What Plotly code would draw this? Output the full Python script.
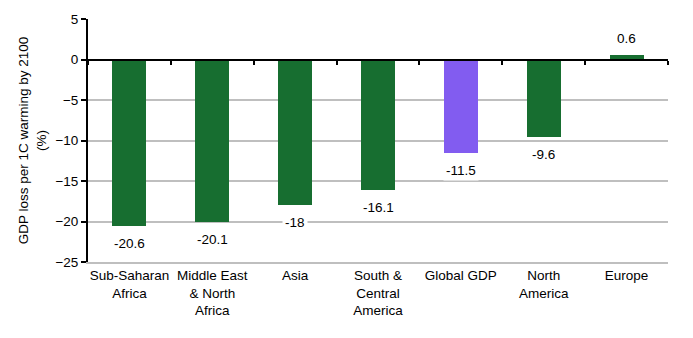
import plotly.graph_objects as go

categories = ["Sub-Saharan<br>Africa", "Middle East<br>& North<br>Africa", "Asia",
              "South &<br>Central<br>America", "Global GDP", "North<br>America", "Europe"]
values = [-20.6, -20.1, -18.0, -16.1, -11.5, -9.6, 0.6]
value_labels = ["-20.6", "-20.1", "-18", "-16.1", "-11.5", "-9.6", "0.6"]
bar_colors = ["#176E30", "#176E30", "#176E30", "#176E30", "#825CF0", "#176E30", "#176E30"]
y_ticks = [5, 0, -5, -10, -15, -20, -25]

FONT = "Liberation Sans, Arial, sans-serif"
FS = 13.5
Y_MIN, Y_MAX = -25, 5
n = len(categories)

fig = go.Figure()
fig.add_trace(go.Bar(
    x=list(range(n)), y=values, marker_color=bar_colors, marker_line_width=0,
    width=0.41, showlegend=False, hoverinfo="skip",
))
# Invisible trace to bind the zero-line axis
fig.add_trace(go.Scatter(x=[-0.5, n - 0.5], y=[0, 0], xaxis="x2", mode="lines",
                         line=dict(width=0), showlegend=False, hoverinfo="skip"))

for i, (v, lab) in enumerate(zip(values, value_labels)):
    fig.add_annotation(
        x=i, y=v, text=lab, showarrow=False,
        yanchor="top" if v < 0 else "bottom",
        yshift=-7 if v < 0 else 6,
        bgcolor="white", borderpad=2,
        font=dict(family=FONT, size=FS, color="#000000"),
    )

fig.update_layout(
    width=693, height=338,
    margin=dict(l=88, r=25, t=19, b=76),
    plot_bgcolor="white", paper_bgcolor="white",
    font=dict(family=FONT, size=FS, color="#000000"),
    bargap=0,
    xaxis=dict(
        tickmode="array", tickvals=list(range(n)), ticktext=categories,
        range=[-0.5, n - 0.5], showgrid=False, zeroline=False,
        showline=True, linecolor="#BFBFBF", linewidth=2, ticks="",
        tickfont=dict(family=FONT, size=FS),
    ),
    xaxis2=dict(
        overlaying="x", anchor="free",
        position=(0 - Y_MIN) / (Y_MAX - Y_MIN),
        range=[-0.5, n - 0.5],
        tickmode="array", tickvals=[i - 0.5 for i in range(n + 1)],
        showticklabels=False, ticks="outside", ticklen=4, tickwidth=2, tickcolor="#000000",
        showline=True, linecolor="#000000", linewidth=2, showgrid=False, zeroline=False,
    ),
    yaxis=dict(
        range=[Y_MIN, Y_MAX], tickmode="array", tickvals=y_ticks,
        showgrid=True, gridcolor="#BFBFBF", gridwidth=2, zeroline=False,
        showline=True, linecolor="#000000", linewidth=2,
        ticks="outside", ticklen=5, tickwidth=2, tickcolor="#000000",
        tickfont=dict(family=FONT, size=FS),
        title=dict(text="GDP loss per 1C warming by 2100<br>(%)",
                   font=dict(family=FONT, size=FS), standoff=6),
    ),
)

fig.write_html("out.html")
